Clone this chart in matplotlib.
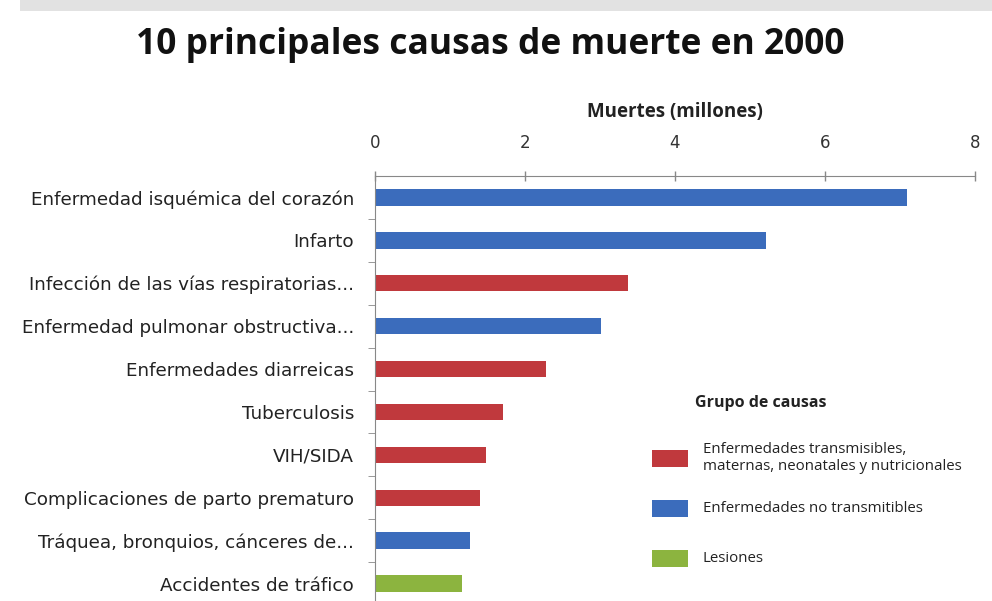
import matplotlib.pyplot as plt
from matplotlib.patches import Rectangle

causes = [
    "Enfermedad isquémica del corazón",
    "Infarto",
    "Infección de las vías respiratorias...",
    "Enfermedad pulmonar obstructiva...",
    "Enfermedades diarreicas",
    "Tuberculosis",
    "VIH/SIDA",
    "Complicaciones de parto prematuro",
    "Tráquea, bronquios, cánceres de...",
    "Accidentes de tráfico",
]
deaths = [7.09, 5.21, 3.37, 3.01, 2.28, 1.71, 1.48, 1.40, 1.27, 1.16]
groups = ["nt", "nt", "t", "nt", "t", "t", "t", "t", "nt", "l"]

group_keys = ["t", "nt", "l"]
group_names = {
    "t": "Enfermedades transmisibles,\nmaternas, neonatales y nutricionales",
    "nt": "Enfermedades no transmitibles",
    "l": "Lesiones",
}
group_colors = {"t": "#c0393d", "nt": "#3b6cbc", "l": "#8cb43f"}

W, H = 992, 601
fig = plt.figure(figsize=(W / 100, H / 100), dpi=100)
plt.rcParams["font.family"] = ["DejaVu Sans"]

# blurred grey strip at the very top of the screenshot
fig.patches.append(
    Rectangle((0.02, 1 - 11 / H), 0.98, 11 / H, transform=fig.transFigure,
              facecolor="#e2e2e2", edgecolor="none")
)

fig.text(0.494, 1 - 45 / H, "10 principales causas de muerte en 2000",
         ha="center", va="center", fontsize=25.5, fontweight="bold",
         family="Open Sans", color="#111111")

ax = fig.add_axes([375 / W, -4 / H, 600 / W, 429 / H])
pos = list(range(len(causes)))
ax.barh(pos, deaths, height=0.38,
        color=[group_colors[g] for g in groups], zorder=2)
ax.set_xlim(0, 8)
ax.set_ylim(len(causes) - 0.5, -0.5)

ax.xaxis.tick_top()
ax.xaxis.set_label_position("top")
ax.set_xticks([0, 2, 4, 6, 8])
ax.tick_params(axis="x", direction="inout", length=7, width=1, color="#888888",
               labelsize=12, labelcolor="#333333", pad=14)
ax.set_xlabel("Muertes (millones)", fontsize=13.5, fontweight="bold",
              family="Open Sans", labelpad=12, color="#222222")

ax.set_yticks(pos)
ax.set_yticklabels(causes)
ax.set_yticks([p + 0.5 for p in pos[:-1]], minor=True)
ax.tick_params(axis="y", which="major", length=0, pad=15, labelsize=13.2,
               labelcolor="#222222")
ax.tick_params(axis="y", which="minor", direction="out", length=5,
               color="#888888")

for side in ["right", "bottom"]:
    ax.spines[side].set_visible(False)
ax.spines["top"].set_color("#888888")
ax.spines["left"].set_color("#888888")

# legend, drawn by hand so the rows sit evenly like the original
fig.text(695 / W, 1 - 403 / H, "Grupo de causas", ha="left", va="center",
         fontsize=11.5, fontweight="bold", family="Open Sans", color="#222222")
for i, k in enumerate(group_keys):
    yc = 458 + 50 * i
    fig.patches.append(
        Rectangle((652 / W, 1 - (yc + 8.5) / H), 36 / W, 17 / H,
                  transform=fig.transFigure, facecolor=group_colors[k],
                  edgecolor="none")
    )
    fig.text(703 / W, 1 - yc / H, group_names[k], ha="left", va="center",
             fontsize=10.8, family="Open Sans", color="#222222",
             linespacing=1.15)

fig.savefig("out.png", dpi=100)
